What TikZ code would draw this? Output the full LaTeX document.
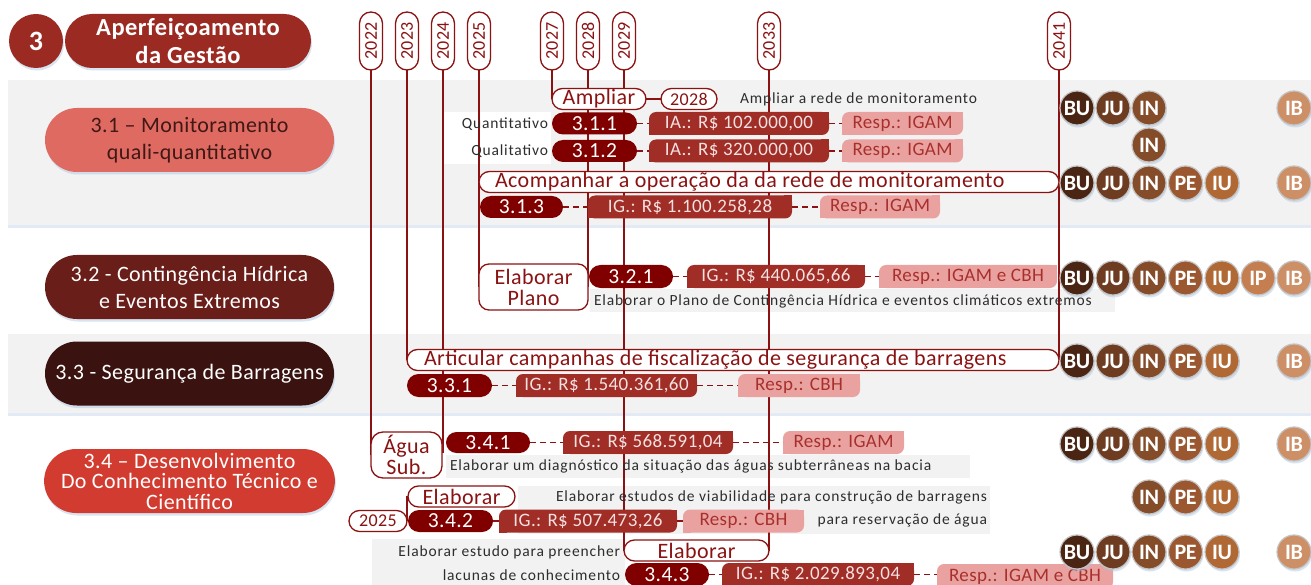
\documentclass[tikz,border=0pt]{standalone}
\usepackage{fontspec}
\setmainfont[LetterSpace=2]{Carlito}
\newfontfamily\descfont[LetterSpace=5.5]{Carlito}
\newfontfamily\orgfont[LetterSpace=-2]{Carlito}
\usetikzlibrary{shapes.misc,shadows}
\definecolor{dr}{RGB}{139,18,18}
\definecolor{tc}{RGB}{155,42,34}
\definecolor{band}{RGB}{242,242,242}
\definecolor{codec}{RGB}{128,0,0}
\definecolor{costc}{RGB}{160,45,38}
\definecolor{costt}{RGB}{245,225,225}
\definecolor{respc}{RGB}{234,162,160}
\definecolor{respt}{RGB}{168,48,44}
\definecolor{dg}{RGB}{45,45,45}
\definecolor{c31}{RGB}{222,106,98}
\definecolor{c31t}{RGB}{64,24,22}
\definecolor{c32}{RGB}{106,30,25}
\definecolor{c33}{RGB}{58,18,15}
\definecolor{c34}{RGB}{210,60,48}
\definecolor{ringc}{RGB}{195,195,195}
\definecolor{shc}{RGB}{170,195,225}
\definecolor{oBU}{RGB}{75,37,20}
\definecolor{oJU}{RGB}{110,60,32}
\definecolor{oIN}{RGB}{133,76,42}
\definecolor{oPE}{RGB}{155,88,48}
\definecolor{oIU}{RGB}{176,104,52}
\definecolor{oIP}{RGB}{196,126,80}
\definecolor{oIB}{RGB}{205,143,102}
\pgfdeclarelayer{back}
\pgfdeclarelayer{mid}
\pgfsetlayers{back,mid,main}
\newcommand\sharpen[2]{\fill[#2] (#1.north east) rectangle ([xshift=-8pt,yshift=-8pt]#1.north east);\fill[#2] (#1.south west) rectangle ([xshift=8pt,yshift=8pt]#1.south west);}
\tikzset{
 base/.style={inner sep=0pt, outer sep=0pt},
 shd/.style={drop shadow={shadow xshift=1pt, shadow yshift=-2.5pt, fill=shc, opacity=0.45}},
 yearp/.style={base, rounded rectangle, draw=dr, line width=1.3pt, fill=white, rotate=90, minimum width=58, minimum height=23, text=dr, font=\fontsize{18}{18}\selectfont},
 cat/.style={base, shd, rounded rectangle, minimum width=289, minimum height=64, align=center, font=\fontsize{22}{27}\selectfont},
 code/.style={base, rounded rectangle, fill=codec, text=white, minimum height=22, font=\fontsize{21.5}{21}\selectfont, anchor=west},
 cost/.style={base, rectangle, rounded corners=7pt, fill=costc, text=costt, minimum height=23, font=\fontsize{19}{20}\selectfont, anchor=west},
 resp/.style={base, rectangle, rounded corners=7pt, fill=respc, text=respt, minimum height=23, font=\fontsize{19}{20}\selectfont, anchor=west},
 actbox/.style={base, rounded rectangle, draw=dr, line width=1.3pt, fill=white, text=dr, minimum height=21, font=\fontsize{22}{22}\selectfont, anchor=west},
 actrect/.style={base, rectangle, rounded corners=10pt, draw=dr, line width=1.3pt, fill=white, text=dr, align=center, font=\fontsize{22}{21}\selectfont, anchor=west},
 desc/.style={base, text=dg, font=\descfont\fontsize{15.5}{18}\selectfont},
 vline/.style={dr, line width=1.5pt},
 dashc/.style={dr, line width=1.5pt, dash pattern=on 6pt off 4pt},
 org/.style={base, shd, circle, minimum size=34, draw=ringc, line width=1.2pt, text=white, font=\orgfont\bfseries\fontsize{22}{22}\selectfont},
}
\begin{document}
\begin{tikzpicture}[x=1pt,y=-1pt]
\useasboundingbox (0,0) rectangle (1311,585);
% title
\node[base, shd, circle, fill=tc, minimum size=54, text=white, font=\bfseries\fontsize{28}{28}\selectfont] (num) at (36,41) {3};
\node[base, shd, rounded rectangle, fill=tc, minimum width=246, minimum height=54, text=white, align=center, font=\bfseries\fontsize{24.5}{28}\selectfont] (ttl) at (188,41) {Aperfeiçoamento\\da Gestão};
% categories
\node[cat, fill=c31, text=c31t] (c31) at (189.5,140) {3.1 – Monitoramento\\quali-quantitativo};
\node[cat, fill=c32, text=white] (c32) at (189.5,287) {3.2 - Contingência Hídrica\\e Eventos Extremos};
\node[cat, fill=c33, text=white] (c33) at (189.5,373.5) {3.3 - Segurança de Barragens};
\node[cat, fill=c34, text=white, font=\fontsize{22}{20.5}\selectfont] (c34) at (189.5,481) {3.4 – Desenvolvimento\\Do Conhecimento Técnico e\\Científico};
% years
\foreach \yr/\xx in {2022/371,2023/407,2024/443,2025/479,2027/552,2028/588,2029/624,2033/769,2041/1059}
  \node[yearp] (y\yr) at (\xx,41) {\yr};
% 3.1
\node[actbox, minimum width=94] (ampl) at (552,99) {Ampliar};
\node[actbox, minimum width=56, font=\fontsize{18}{18}\selectfont] (p2028) at (661,99) {2028};
\node[desc, anchor=west] (d311) at (740,99) {Ampliar a rede de monitoramento};
\node[desc, anchor=east] (q1) at (548,124) {Quantitativo};
\node[code, minimum width=85] (a311) at (552,123.5) {3.1.1};
\node[cost, minimum width=180] (ia311) at (649,123.5) {IA.: R\$ 102.000,00};
\node[resp, minimum width=121] (r311) at (842,123.5) {Resp.: IGAM};
\node[desc, anchor=east] (q2) at (548,151.5) {Qualitativo};
\node[code, minimum width=85] (a312) at (552,151) {3.1.2};
\node[cost, minimum width=180] (ia312) at (649,151) {IA.: R\$ 320.000,00};
\node[resp, minimum width=121] (r312) at (842,151) {Resp.: IGAM};
\node[actbox, minimum width=580] (acomp) at (479,182) {\makebox[548pt][l]{Acompanhar a operação da da rede de monitoramento}};
\node[code, minimum width=83] (a313) at (480,207) {3.1.3};
\node[cost, minimum width=204] (ig313) at (588,207) {IG.: R\$ 1.100.258,28};
\node[resp, minimum width=120] (r313) at (820,207) {Resp.: IGAM};
% 3.2
\node[actrect, minimum width=109, minimum height=46] (ep) at (479,287) {Elaborar\\Plano};
\node[code, minimum width=84, minimum height=23] (a321) at (589,276.5) {3.2.1};
\node[cost, minimum width=178] (ig321) at (687,276.5) {IG.: R\$ 440.065,66};
\node[resp, minimum width=178] (r321) at (879,276.5) {Resp.: IGAM e CBH};
\node[desc, anchor=west] (d321) at (594,301) {Elaborar o Plano de Contingência Hídrica e eventos climáticos extremos};
% 3.3
\node[actbox, minimum width=652] (art) at (407,360) {\makebox[618pt][l]{Articular campanhas de fiscalização de segurança de barragens}};
\node[code, minimum width=85, minimum height=23] (a331) at (407,385.5) {3.3.1};
\node[cost, minimum width=181] (ig331) at (516,385.5) {IG.: R\$ 1.540.361,60};
\node[resp, minimum width=122] (r331) at (738,385.5) {Resp.: CBH};
% 3.4.1
\node[actrect, minimum width=71, minimum height=46, rounded corners=12pt] (agua) at (371,455) {Água\\Sub.};
\node[code, minimum width=84, minimum height=21] (a341) at (446,442.5) {3.4.1};
\node[cost, minimum width=170] (ig341) at (563,442.5) {IG.: R\$ 568.591,04};
\node[resp, minimum width=121] (r341) at (783,442.5) {Resp.: IGAM};
\node[desc, anchor=west] (d341) at (450,466) {Elaborar um diagnóstico da situação das águas subterrâneas na bacia};
% 3.4.2
\node[actbox, minimum width=107] (e342) at (408,496.5) {Elaborar};
\node[code, minimum width=85, minimum height=22] (a342) at (408,521) {3.4.2};
\node[actbox, minimum width=58, font=\fontsize{18}{18}\selectfont] (p2025) at (349,521) {2025};
\node[cost, minimum width=178] (ig342) at (499,521) {IG.: R\$ 507.473,26};
\node[resp, minimum width=121] (r342) at (683,521) {Resp.: CBH};
\node[desc, anchor=east] (d342a) at (987,497) {Elaborar estudos de viabilidade para construção de barragens};
\node[desc, anchor=east] (d342b) at (987,520) {para reservação de água};
% 3.4.3
\node[actbox, minimum width=145] (e343) at (624,550.5) {Elaborar};
\node[code, minimum width=84, minimum height=23] (a343) at (625,574.5) {3.4.3};
\node[cost, minimum width=192] (ig343) at (722,574.5) {IG.: R\$ 2.029.893,04};
\node[resp, minimum width=176, minimum height=25] (r343) at (937,576.5) {Resp.: IGAM e CBH};
\node[desc, anchor=east] (d343a) at (620,552) {Elaborar estudo para preencher};
\node[desc, anchor=east] (d343b) at (620,575) {lacunas de conhecimento};
% sharpen corners
\foreach \n in {ia311,ia312,ig313,ig321,ig331,ig341,ig342,ig343} {\sharpen{\n}{costc}}
\foreach \n in {r311,r312,r313,r321,r331,r341,r342,r343} {\sharpen{\n}{respc}}
% organisations
\foreach \o/\xx in {BU/1077,JU/1113,IN/1149,IB/1294} \node[org, fill=o\o] (A\o) at (\xx,108) {\o};
\node[org, fill=oIN] (BIN) at (1149,145) {IN};
\foreach \o/\xx in {BU/1077,JU/1113,IN/1149,PE/1185.5,IU/1222,IB/1294} \node[org, fill=o\o] (C\o) at (\xx,183) {\o};
\foreach \o/\xx in {BU/1077,JU/1113,IN/1149,PE/1185.5,IU/1222,IP/1258,IB/1294} \node[org, fill=o\o] (D\o) at (\xx,278) {\o};
\foreach \o/\xx in {BU/1077,JU/1113,IN/1149,PE/1185.5,IU/1222,IB/1294} \node[org, fill=o\o] (E\o) at (\xx,361) {\o};
\foreach \o/\xx in {BU/1077,JU/1113,IN/1149,PE/1185.5,IU/1222,IB/1294} \node[org, fill=o\o] (F\o) at (\xx,444) {\o};
\foreach \o/\xx in {IN/1149,PE/1185.5,IU/1222} \node[org, fill=o\o] (G\o) at (\xx,497) {\o};
\foreach \o/\xx in {BU/1077,JU/1113,IN/1149,PE/1185.5,IU/1222,IB/1294} \node[org, fill=o\o] (H\o) at (\xx,552) {\o};
% connectors between items
\draw[vline] (ampl.east) -- (p2028.west);
\draw[dashc] (a311.east) -- (ia311.west);
\draw[dashc] (ia311.east) -- (r311.west);
\draw[dashc] (a312.east) -- (ia312.west);
\draw[dashc] (ia312.east) -- (r312.west);
\draw[dashc] (a313.east) -- (ig313.west);
\draw[dashc] (ig313.east) -- (r313.west);
\draw[dashc] (a321.east) -- (ig321.west);
\draw[dashc] (ig321.east) -- (r321.west);
\draw[dashc] (a331.east) -- (ig331.west);
\draw[dashc] (ig331.east) -- (r331.west);
\draw[dashc] (a341.east) -- (ig341.west);
\draw[dashc] (ig341.east) -- (r341.west);
\draw[vline] (a342.east) -- (ig342.west);
\draw[vline] (ig342.east) -- (r342.west);
\draw[vline] (p2025.east) |- (e342.west);
\draw[dashc] (a343.east) -- (ig343.west);
\draw[dashc] (ig343.east) -- (ig343.east -| r343.west);
% timeline lines
\begin{pgfonlayer}{mid}
\draw[vline] (y2022.west) -- (y2022.west |- agua.west);
\draw[vline] (y2023.west) -- (y2023.west |- art.west);
\draw[vline] (y2024.west) -- (y2024.west |- a341.south);
\draw[vline] (y2025.west) -- (y2025.west |- ep.west);
\draw[vline] (y2027.west) -- (y2027.west |- ampl.west);
\draw[vline] (y2028.west) -- (y2028.west |- ep.east);
\draw[vline] (y2029.west) -- (y2029.west |- e343.west);
\draw[vline] (y2033.west) -- (y2033.west |- e343.east);
\draw[vline] (y2041.west) -- (y2041.west |- art.east);
\end{pgfonlayer}
% backgrounds
\begin{pgfonlayer}{back}
\fill[shc, opacity=0.35] (8,225) rectangle (1311,228);
\fill[shc, opacity=0.35] (8,413) rectangle (1311,416);
\fill[band] (8,80) rectangle (1311,225);
\fill[band] (8,334) rectangle (1311,413);
\fill[white] (444,112) rectangle (551,164);
\fill[band] (590,289) rectangle (1115,312);
\fill[band] (446,455) rectangle (970,478);
\fill[band] (518,486) rectangle (990,534);
\fill[band] (372,539) rectangle (625,585);
\end{pgfonlayer}
\end{tikzpicture}
\end{document}
